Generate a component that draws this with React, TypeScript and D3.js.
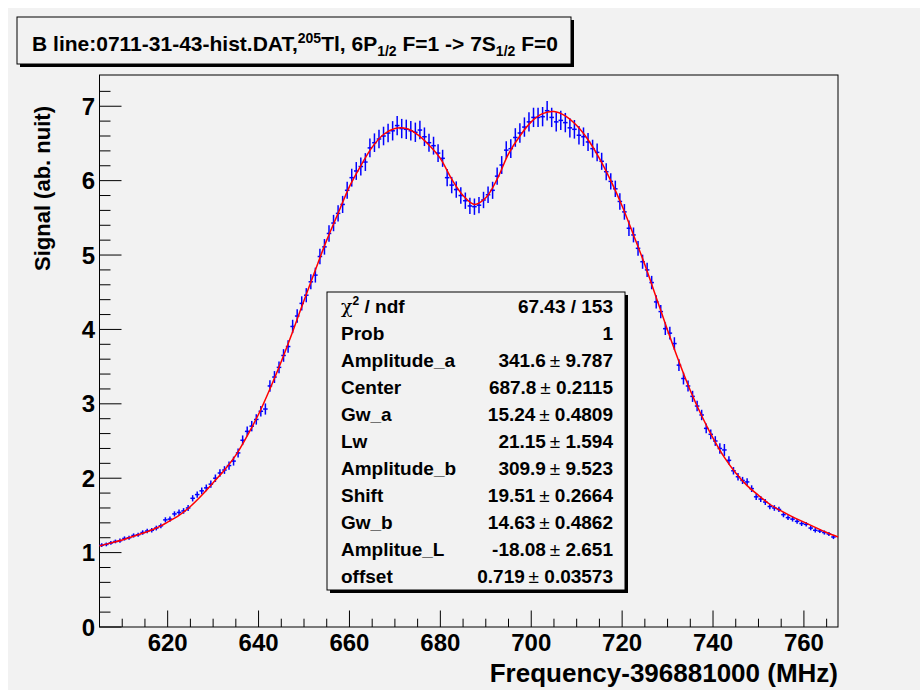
import React from 'react';
import * as d3 from 'd3';

// ---------- data ----------
const binCenters = [
  605.5, 606.5, 607.5, 608.5, 609.5, 610.5, 611.5, 612.5, 613.5, 614.5,
  615.5, 616.5, 617.5, 618.5, 619.5, 620.5, 621.5, 622.5, 623.5, 624.5,
  625.5, 626.5, 627.5, 628.5, 629.5, 630.5, 631.5, 632.5, 633.5, 634.5,
  635.5, 636.5, 637.5, 638.5, 639.5, 640.5, 641.5, 642.5, 643.5, 644.5,
  645.5, 646.5, 647.5, 648.5, 649.5, 650.5, 651.5, 652.5, 653.5, 654.5,
  655.5, 656.5, 657.5, 658.5, 659.5, 660.5, 661.5, 662.5, 663.5, 664.5,
  665.5, 666.5, 667.5, 668.5, 669.5, 670.5, 671.5, 672.5, 673.5, 674.5,
  675.5, 676.5, 677.5, 678.5, 679.5, 680.5, 681.5, 682.5, 683.5, 684.5,
  685.5, 686.5, 687.5, 688.5, 689.5, 690.5, 691.5, 692.5, 693.5, 694.5,
  695.5, 696.5, 697.5, 698.5, 699.5, 700.5, 701.5, 702.5, 703.5, 704.5,
  705.5, 706.5, 707.5, 708.5, 709.5, 710.5, 711.5, 712.5, 713.5, 714.5,
  715.5, 716.5, 717.5, 718.5, 719.5, 720.5, 721.5, 722.5, 723.5, 724.5,
  725.5, 726.5, 727.5, 728.5, 729.5, 730.5, 731.5, 732.5, 733.5, 734.5,
  735.5, 736.5, 737.5, 738.5, 739.5, 740.5, 741.5, 742.5, 743.5, 744.5,
  745.5, 746.5, 747.5, 748.5, 749.5, 750.5, 751.5, 752.5, 753.5, 754.5,
  755.5, 756.5, 757.5, 758.5, 759.5, 760.5, 761.5, 762.5, 763.5, 764.5,
  765.5, 766.5,
];

const signal = [
  1.10, 1.11, 1.13, 1.15, 1.16, 1.19, 1.20, 1.23, 1.24, 1.27,
  1.29, 1.30, 1.33, 1.36, 1.44, 1.45, 1.52, 1.54, 1.56, 1.60,
  1.73, 1.78, 1.83, 1.87, 1.92, 2.00, 2.07, 2.11, 2.17, 2.23,
  2.34, 2.51, 2.63, 2.70, 2.79, 2.90, 2.93, 3.24, 3.36, 3.49,
  3.65, 3.77, 4.04, 4.18, 4.35, 4.46, 4.64, 4.73, 4.98, 5.11,
  5.29, 5.43, 5.56, 5.68, 5.87, 6.04, 6.13, 6.19, 6.25, 6.44,
  6.51, 6.56, 6.60, 6.64, 6.67, 6.74, 6.70, 6.69, 6.67, 6.65,
  6.68, 6.59, 6.51, 6.47, 6.37, 6.30, 6.04, 5.94, 5.88, 5.80,
  5.73, 5.66, 5.65, 5.67, 5.74, 5.81, 5.87, 6.06, 6.21, 6.41,
  6.43, 6.58, 6.64, 6.72, 6.79, 6.85, 6.85, 6.86, 6.94, 6.85,
  6.79, 6.81, 6.78, 6.71, 6.69, 6.61, 6.59, 6.52, 6.43, 6.38,
  6.26, 6.12, 5.99, 5.89, 5.72, 5.58, 5.36, 5.27, 5.09, 4.91,
  4.80, 4.63, 4.37, 4.24, 4.01, 3.95, 3.81, 3.52, 3.34, 3.24,
  3.10, 2.97, 2.85, 2.67, 2.59, 2.50, 2.40, 2.38, 2.24, 2.10,
  2.02, 1.97, 1.95, 1.86, 1.75, 1.72, 1.68, 1.62, 1.60, 1.58,
  1.51, 1.47, 1.45, 1.42, 1.39, 1.38, 1.33, 1.30, 1.29, 1.27,
  1.25, 1.21,
];

const signalErr = [
  0.025, 0.025, 0.025, 0.025, 0.028, 0.028, 0.028, 0.028, 0.028, 0.030,
  0.030, 0.030, 0.032, 0.032, 0.035, 0.035, 0.035, 0.038, 0.038, 0.040,
  0.042, 0.042, 0.045, 0.045, 0.048, 0.050, 0.050, 0.052, 0.055, 0.060,
  0.060, 0.065, 0.065, 0.070, 0.070, 0.072, 0.075, 0.078, 0.080, 0.080,
  0.085, 0.085, 0.090, 0.090, 0.095, 0.095, 0.100, 0.100, 0.105, 0.105,
  0.110, 0.110, 0.110, 0.115, 0.115, 0.120, 0.120, 0.120, 0.120, 0.125,
  0.125, 0.125, 0.125, 0.125, 0.130, 0.130, 0.130, 0.130, 0.130, 0.130,
  0.125, 0.125, 0.120, 0.120, 0.120, 0.115, 0.115, 0.110, 0.110, 0.110,
  0.110, 0.110, 0.110, 0.110, 0.110, 0.110, 0.115, 0.115, 0.120, 0.120,
  0.125, 0.125, 0.130, 0.130, 0.130, 0.130, 0.130, 0.130, 0.130, 0.130,
  0.130, 0.130, 0.130, 0.130, 0.125, 0.125, 0.125, 0.120, 0.120, 0.120,
  0.115, 0.115, 0.110, 0.110, 0.110, 0.105, 0.105, 0.100, 0.100, 0.095,
  0.095, 0.090, 0.090, 0.090, 0.085, 0.085, 0.085, 0.080, 0.080, 0.075,
  0.075, 0.070, 0.070, 0.065, 0.065, 0.065, 0.070, 0.080, 0.055, 0.050,
  0.050, 0.048, 0.048, 0.045, 0.042, 0.040, 0.040, 0.038, 0.038, 0.035,
  0.035, 0.033, 0.033, 0.032, 0.032, 0.030, 0.030, 0.030, 0.028, 0.028,
  0.028, 0.028,
];

// fitted curve
const fitX = [
  605, 607.5, 610, 612.5, 615, 617.5, 620, 622.5, 625, 627.5,
  630, 632.5, 635, 637.5, 640, 642.5, 645, 647.5, 650, 652.5,
  655, 657.5, 660, 662.5, 665, 667.5, 670, 672.5, 675, 677.5,
  680, 682.5, 685, 687.5, 690, 692.5, 695, 697.5, 700, 702.5,
  705, 707.5, 710, 712.5, 715, 717.5, 720, 722.5, 725, 727.5,
  730, 732.5, 735, 737.5, 740, 742.5, 745, 747.5, 750, 752.5,
  755, 757.5, 760, 762.5, 765, 767.5,
];
const fitY = [
  1.09, 1.13, 1.17, 1.22, 1.27, 1.33, 1.41, 1.50, 1.62, 1.77,
  1.94, 2.11, 2.31, 2.57, 2.86, 3.20, 3.57, 3.97, 4.39, 4.80,
  5.20, 5.56, 5.92, 6.20, 6.45, 6.62, 6.70, 6.70, 6.62, 6.48,
  6.30, 6.02, 5.80, 5.68, 5.77, 6.02, 6.36, 6.60, 6.79, 6.90,
  6.93, 6.87, 6.74, 6.55, 6.30, 6.00, 5.66, 5.27, 4.87, 4.43,
  3.99, 3.57, 3.18, 2.84, 2.54, 2.28, 2.07, 1.90, 1.77, 1.65,
  1.56, 1.48, 1.41, 1.34, 1.27, 1.21,
];

const xTickValues = [620, 640, 660, 680, 700, 720, 740, 760];
const yTickValues = [0, 1, 2, 3, 4, 5, 6, 7];

const statsLabels = ['ndf', 'Prob', 'Amplitude_a', 'Center', 'Gw_a', 'Lw', 'Amplitude_b', 'Shift', 'Gw_b', 'Amplitue_L', 'offset'];
const statsValues = ['67.43 / 153', '1', '341.6', '687.8', '15.24', '21.15', '309.9', '19.51', '14.63', '-18.08', '0.719'];
const statsErrors = ['', '', '9.787', '0.2115', '0.4809', '1.594', '9.523', '0.2664', '0.4862', '2.651', '0.03573'];

const xTitle = 'Frequency-396881000 (MHz)';
const yTitle = 'Signal (ab. nuit)';

// ---------- layout ----------
const W = 920;
const H = 690;
const BG = '#f2f2f2';
const FONT = "'Liberation Sans', Arial, Helvetica, sans-serif";
const frame = { left: 99.5, right: 838, top: 75, bottom: 627 };

export default function App() {
  const x = d3.scaleLinear().domain([605, 767.5]).range([frame.left, frame.right]);
  const y = d3.scaleLinear().domain([0, 7.42]).range([frame.bottom, frame.top]);

  const xMinor = d3.range(610, 767.5, 5).filter((v) => !xTickValues.includes(v));
  const yMinor = d3.range(0, 7.3, 0.2).map((v) => +v.toFixed(1)).filter((v) => !yTickValues.includes(v));

  const line = d3
    .line<number>()
    .x((_, i) => x(fitX[i]))
    .y((d) => y(d))
    .curve(d3.curveCatmullRom.alpha(0.5));

  const half = (x(1) - x(0)) / 2;

  const stats = { x1: 327, x2: 625, y1: 292, y2: 590 };
  const rowH = (stats.y2 - stats.y1) / statsLabels.length;

  return (
    <svg width={W} height={H} style={{ position: 'absolute', left: 0, top: 0 }} fontFamily={FONT}>
      <rect x={0} y={0} width={W} height={H} fill="#ffffff" />
      <rect x={8} y={8} width={W - 8} height={H - 8} fill={BG} />

      {/* title box */}
      <rect x={20} y={20} width={554} height={47} fill="#000" />
      <rect x={17} y={17} width={554} height={47} fill={BG} stroke="#000" strokeWidth={1} />
      <text x={295} y={50.5} textAnchor="middle" fontSize={21} fontWeight="bold">
        B line:0711-31-43-hist.DAT,
        <tspan dy={-8} fontSize={14}>205</tspan>
        <tspan dy={8}>Tl, 6P</tspan>
        <tspan dy={5} fontSize={14}>1/2</tspan>
        <tspan dy={-5}> F=1 -&gt; 7S</tspan>
        <tspan dy={5} fontSize={14}>1/2</tspan>
        <tspan dy={-5}> F=0</tspan>
      </text>

      {/* frame */}
      <rect x={frame.left} y={frame.top} width={frame.right - frame.left} height={frame.bottom - frame.top} fill={BG} stroke="#000" strokeWidth={1} />

      {/* x ticks */}
      {xTickValues.map((v) => (
        <line key={'xM' + v} x1={x(v)} x2={x(v)} y1={frame.bottom} y2={frame.bottom - 16.5} stroke="#000" />
      ))}
      {xMinor.map((v) => (
        <line key={'xm' + v} x1={x(v)} x2={x(v)} y1={frame.bottom} y2={frame.bottom - 8.3} stroke="#000" />
      ))}
      {xTickValues.map((v) => (
        <text key={'xl' + v} x={x(v)} y={651} textAnchor="middle" fontSize={24} fontWeight="bold">{v}</text>
      ))}

      {/* y ticks */}
      {yTickValues.map((v) => (
        <line key={'yM' + v} x1={frame.left} x2={frame.left + 22} y1={y(v)} y2={y(v)} stroke="#000" />
      ))}
      {yMinor.map((v) => (
        <line key={'ym' + v} x1={frame.left} x2={frame.left + 11} y1={y(v)} y2={y(v)} stroke="#000" />
      ))}
      {yTickValues.map((v) => (
        <text key={'yl' + v} x={95} y={y(v) + 8.5} textAnchor="end" fontSize={24} fontWeight="bold">{v}</text>
      ))}

      {/* axis titles */}
      <text x={frame.right} y={682} textAnchor="end" fontSize={26} fontWeight="bold">{xTitle}</text>
      <text transform={`translate(50, ${frame.top + 31}) rotate(-90)`} textAnchor="end" fontSize={22} fontWeight="bold">{yTitle}</text>

      {/* data points with error bars */}
      <g stroke="#0000ff" strokeWidth={1.5}>
        {binCenters.map((c, i) => (
          <g key={'p' + i}>
            <line x1={x(c)} x2={x(c)} y1={y(signal[i] - signalErr[i])} y2={y(signal[i] + signalErr[i])} />
            <line x1={x(c) - half} x2={x(c) + half} y1={y(signal[i])} y2={y(signal[i])} />
          </g>
        ))}
      </g>

      {/* fit */}
      <path d={line(fitY) || ''} fill="none" stroke="#ff0000" strokeWidth={1.5} />

      {/* stats box */}
      <rect x={stats.x1 + 3} y={stats.y1 + 3} width={stats.x2 - stats.x1} height={stats.y2 - stats.y1} fill="#000" />
      <rect x={stats.x1} y={stats.y1} width={stats.x2 - stats.x1} height={stats.y2 - stats.y1} fill={BG} stroke="#000" strokeWidth={1} />
      {statsLabels.map((lab, i) => {
        const cy = stats.y1 + rowH * (i + 0.5) + 7;
        return (
          <g key={'s' + i} fontSize={19} fontWeight="bold">
            {i === 0 ? (
              <text x={341} y={cy}>
                <tspan fontWeight="normal" fontFamily="'DejaVu Serif', serif">χ</tspan>
                <tspan dy={-8} fontSize={12}>2</tspan>
                <tspan dy={8}> / {lab}</tspan>
              </text>
            ) : (
              <text x={341} y={cy}>{lab}</text>
            )}
            <text x={613} y={cy} textAnchor="end">
              {statsValues[i]}
              {statsErrors[i] ? (
                <>
                  <tspan fontWeight="normal">{'\u2009±'}</tspan>
                  {' ' + statsErrors[i]}
                </>
              ) : null}
            </text>
          </g>
        );
      })}
    </svg>
  );
}
